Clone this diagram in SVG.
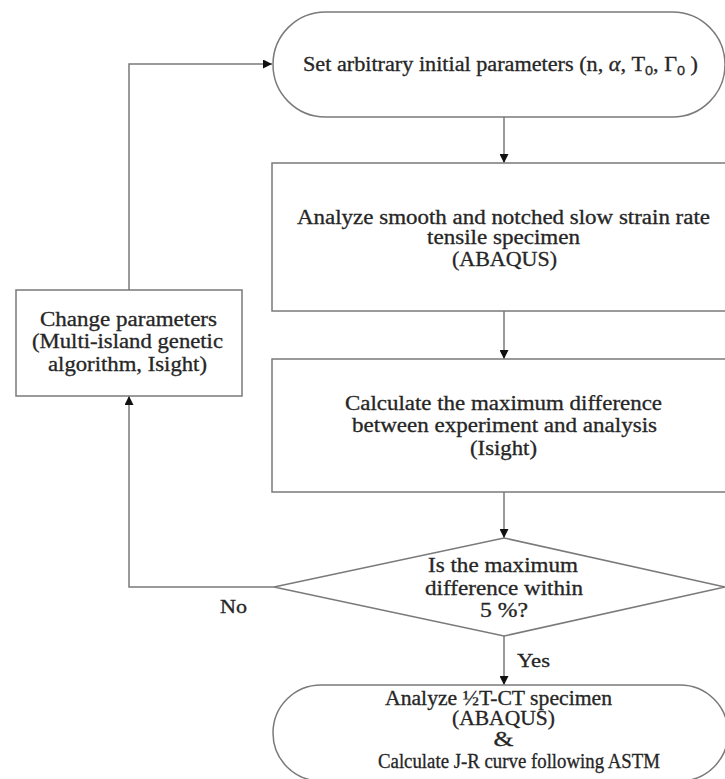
<svg xmlns="http://www.w3.org/2000/svg" width="725" height="779" viewBox="0 0 725 779">
  <style>
    .shape { fill: #ffffff; stroke: #7a7a7a; stroke-width: 1.5; }
    .conn { fill: none; stroke: #7a7a7a; stroke-width: 1.5; }
    .t { font-family: "Liberation Serif", "Times New Roman", serif; font-size: 20px; fill: #262626; stroke: #262626; stroke-width: 0.3; text-anchor: middle; }
    .lbl { font-family: "Liberation Serif", "Times New Roman", serif; font-size: 19px; fill: #262626; stroke: #262626; stroke-width: 0.3; }
  </style>
  <defs>
    <marker id="arr" viewBox="0 0 10 10" refX="10" refY="5" markerWidth="9" markerHeight="9" markerUnits="userSpaceOnUse" orient="auto">
      <path d="M0,0 L10,5 L0,10 Z" fill="#111111"/>
    </marker>
  </defs>

  <rect width="725" height="779" fill="#ffffff"/>

  <g id="connectors">
    <polyline class="conn" points="129,290 129,64 272,64" marker-end="url(#arr)"/>
    <line class="conn" x1="504" y1="117" x2="504" y2="163" marker-end="url(#arr)"/>
    <line class="conn" x1="504" y1="311" x2="504" y2="359" marker-end="url(#arr)"/>
    <line class="conn" x1="504" y1="492" x2="504" y2="538" marker-end="url(#arr)"/>
    <polyline class="conn" points="274,587 129,587 129,396" marker-end="url(#arr)"/>
    <line class="conn" x1="504" y1="636" x2="504" y2="685" marker-end="url(#arr)"/>
    <text class="lbl" x="220" y="613" textLength="27" lengthAdjust="spacingAndGlyphs">No</text>
    <text class="lbl" x="517" y="667" textLength="33" lengthAdjust="spacingAndGlyphs">Yes</text>
  </g>

  <g id="start">
    <path class="shape" d="M325.5,12 H672.5 A52.5,52.5 0 0 1 672.5,117 H325.5 A52.5,52.5 0 0 1 325.5,12 Z"/>
    <text class="t" x="500.5" y="71" textLength="395" lengthAdjust="spacingAndGlyphs">Set arbitrary initial parameters (n, <tspan font-style="italic">α</tspan>, T<tspan font-family="Liberation Sans, Arial, sans-serif" font-size="13" dy="4">0</tspan><tspan dy="-4">, Γ</tspan><tspan font-family="Liberation Sans, Arial, sans-serif" font-size="13" dy="4">0</tspan><tspan dy="-4"> )</tspan></text>
  </g>

  <g id="analyze-tensile">
    <rect class="shape" x="272" y="163" width="460" height="148"/>
    <text class="t" x="503.5" y="224" textLength="413" lengthAdjust="spacingAndGlyphs">Analyze smooth and notched slow strain rate</text>
    <text class="t" x="503.5" y="244" textLength="153" lengthAdjust="spacingAndGlyphs">tensile specimen</text>
    <text class="t" x="504.5" y="266" textLength="105" lengthAdjust="spacingAndGlyphs">(ABAQUS)</text>
  </g>

  <g id="calc-difference">
    <rect class="shape" x="272" y="359" width="460" height="133"/>
    <text class="t" x="503.5" y="410" textLength="317" lengthAdjust="spacingAndGlyphs">Calculate the maximum difference</text>
    <text class="t" x="504.5" y="432" textLength="305" lengthAdjust="spacingAndGlyphs">between experiment and analysis</text>
    <text class="t" x="503.5" y="455" textLength="67" lengthAdjust="spacingAndGlyphs">(Isight)</text>
  </g>

  <g id="change-params">
    <rect class="shape" x="16" y="290" width="226" height="106"/>
    <text class="t" x="128.5" y="326" textLength="177" lengthAdjust="spacingAndGlyphs">Change parameters</text>
    <text class="t" x="127.5" y="348" textLength="191" lengthAdjust="spacingAndGlyphs">(Multi-island  genetic</text>
    <text class="t" x="127.5" y="371" textLength="159" lengthAdjust="spacingAndGlyphs">algorithm, Isight)</text>
  </g>

  <g id="decision">
    <polygon class="shape" points="504,538 725,587 504,636 274,587"/>
    <text class="t" x="503" y="572" textLength="150" lengthAdjust="spacingAndGlyphs">Is the maximum</text>
    <text class="t" x="504" y="595" textLength="158" lengthAdjust="spacingAndGlyphs">difference within</text>
    <text class="t" x="504" y="617" textLength="48" lengthAdjust="spacingAndGlyphs">5 %?</text>
  </g>

  <g id="end">
    <path class="shape" d="M321,685 H680 A48,48 0 0 1 680,781 H321 A48,48 0 0 1 321,685 Z"/>
    <text class="t" x="498.5" y="705" textLength="227" lengthAdjust="spacingAndGlyphs">Analyze ½T-CT specimen</text>
    <text class="t" x="503.5" y="725" textLength="103" lengthAdjust="spacingAndGlyphs">(ABAQUS)</text>
    <text class="t" x="503.5" y="746" font-size="18" textLength="20" lengthAdjust="spacingAndGlyphs">&amp;</text>
    <text class="t" x="519" y="768" font-size="18" textLength="282" lengthAdjust="spacingAndGlyphs">Calculate J-R curve following ASTM</text>
  </g>
</svg>
